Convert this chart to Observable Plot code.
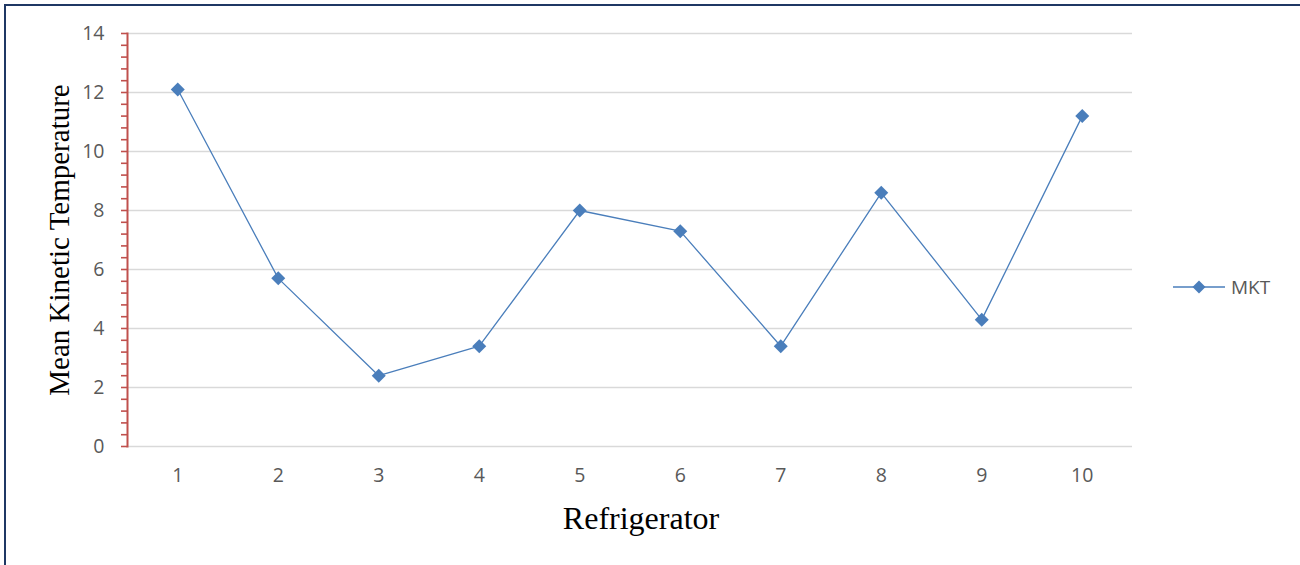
<!DOCTYPE html>
<html>
<head>
<meta charset="utf-8">
<script src="https://cdn.jsdelivr.net/npm/d3@7"></script>
<script src="https://cdn.jsdelivr.net/npm/@observablehq/plot@0.6"></script>
<style>
  html, body { margin: 0; padding: 0; background: #fff; }
  #wrap { position: relative; width: 1300px; height: 565px; overflow: hidden; }
  #wrap .bt { position: absolute; left: 4px; top: 4px; width: 1300px; height: 2px; background: #1f3864; }
  #wrap .bl { position: absolute; left: 4px; top: 4px; width: 2px; height: 565px; background: #1f3864; }
  #legend { position: absolute; left: 1172px; top: 274px; display: flex; align-items: center;
            font-family: "Open Sans", "Liberation Sans", sans-serif; font-size: 19px; color: #595959; }
  #legend span { margin-left: 5px; }
  #chart { position: absolute; left: 0; top: 0; }
</style>
</head>
<body>
<div id="wrap">
  <div id="chart"></div>
  <div class="bt"></div>
  <div class="bl"></div>
  <div id="legend">
    <svg width="54" height="24"><line x1="1" x2="53" y1="12" y2="12" stroke="#4a7ebb" stroke-width="1.5"/><path d="M27,5.5 L33.5,12 L27,18.5 L20.5,12 Z" fill="#4a7ebb"/></svg>
    <span>MKT</span>
  </div>
</div>
<script>
// Mean kinetic temperature per refrigerator
const refrigerators = [1, 2, 3, 4, 5, 6, 7, 8, 9, 10];
const mkt = [12.1, 5.7, 2.4, 3.4, 8.0, 7.3, 3.4, 8.6, 4.3, 11.2];
const yTicks = [0, 2, 4, 6, 8, 10, 12, 14];
const seriesName = "MKT";

const data = refrigerators.map((r, i) => ({refrigerator: r, value: mkt[i], series: seriesName}));
const minorTicks = d3.range(0, 14.001, 0.4).map(v => +v.toFixed(1));

const font = '"Open Sans", "Liberation Sans", sans-serif';
const blue = "#4a7ebb";
const red = "#c0504d";
const tickFont = 19.5;

const chart = Plot.plot({
  width: 1300,
  height: 565,
  marginLeft: 127,
  marginRight: 168,
  marginTop: 33,
  marginBottom: 119,
  style: {fontFamily: font, fontSize: "19px", color: "#595959", background: "transparent"},
  x: {type: "point", domain: refrigerators, padding: 0.5, round: false},
  y: {domain: [0, 14]},
  marks: [
    Plot.gridY(yTicks, {stroke: "#d9d9d9", strokeOpacity: 1, strokeWidth: 1.5}),
    Plot.axisX({ticks: refrigerators, tickSize: 0, tickPadding: 22, label: null, fill: "#595959", fontSize: tickFont}),
    Plot.axisY({ticks: minorTicks, tickSize: 6, text: null, stroke: red, strokeWidth: 1.6, label: null}),
    Plot.axisY({ticks: yTicks, tickSize: 0, tickPadding: 23, label: null, fill: "#595959", fontSize: tickFont}),
    Plot.frame({anchor: "left", stroke: red, strokeWidth: 2}),
    Plot.line(data, {x: "refrigerator", y: "value", stroke: blue, strokeWidth: 1.3}),
    Plot.dot(data, {x: "refrigerator", y: "value", symbol: "diamond2", r: 6.3, fill: blue, stroke: "none"}),
    Plot.text(["Refrigerator"], {frameAnchor: "bottom", dx: 11, dy: 82, fontFamily: '"Liberation Serif", serif', fontSize: 32, fill: "#000"}),
    Plot.text(["Mean Kinetic Temperature"], {frameAnchor: "left", textAnchor: "middle", rotate: -90, dx: -68, fontFamily: '"Liberation Serif", serif', fontSize: 29, fill: "#000"})
  ]
});
document.getElementById("chart").append(chart);
</script>
</body>
</html>
